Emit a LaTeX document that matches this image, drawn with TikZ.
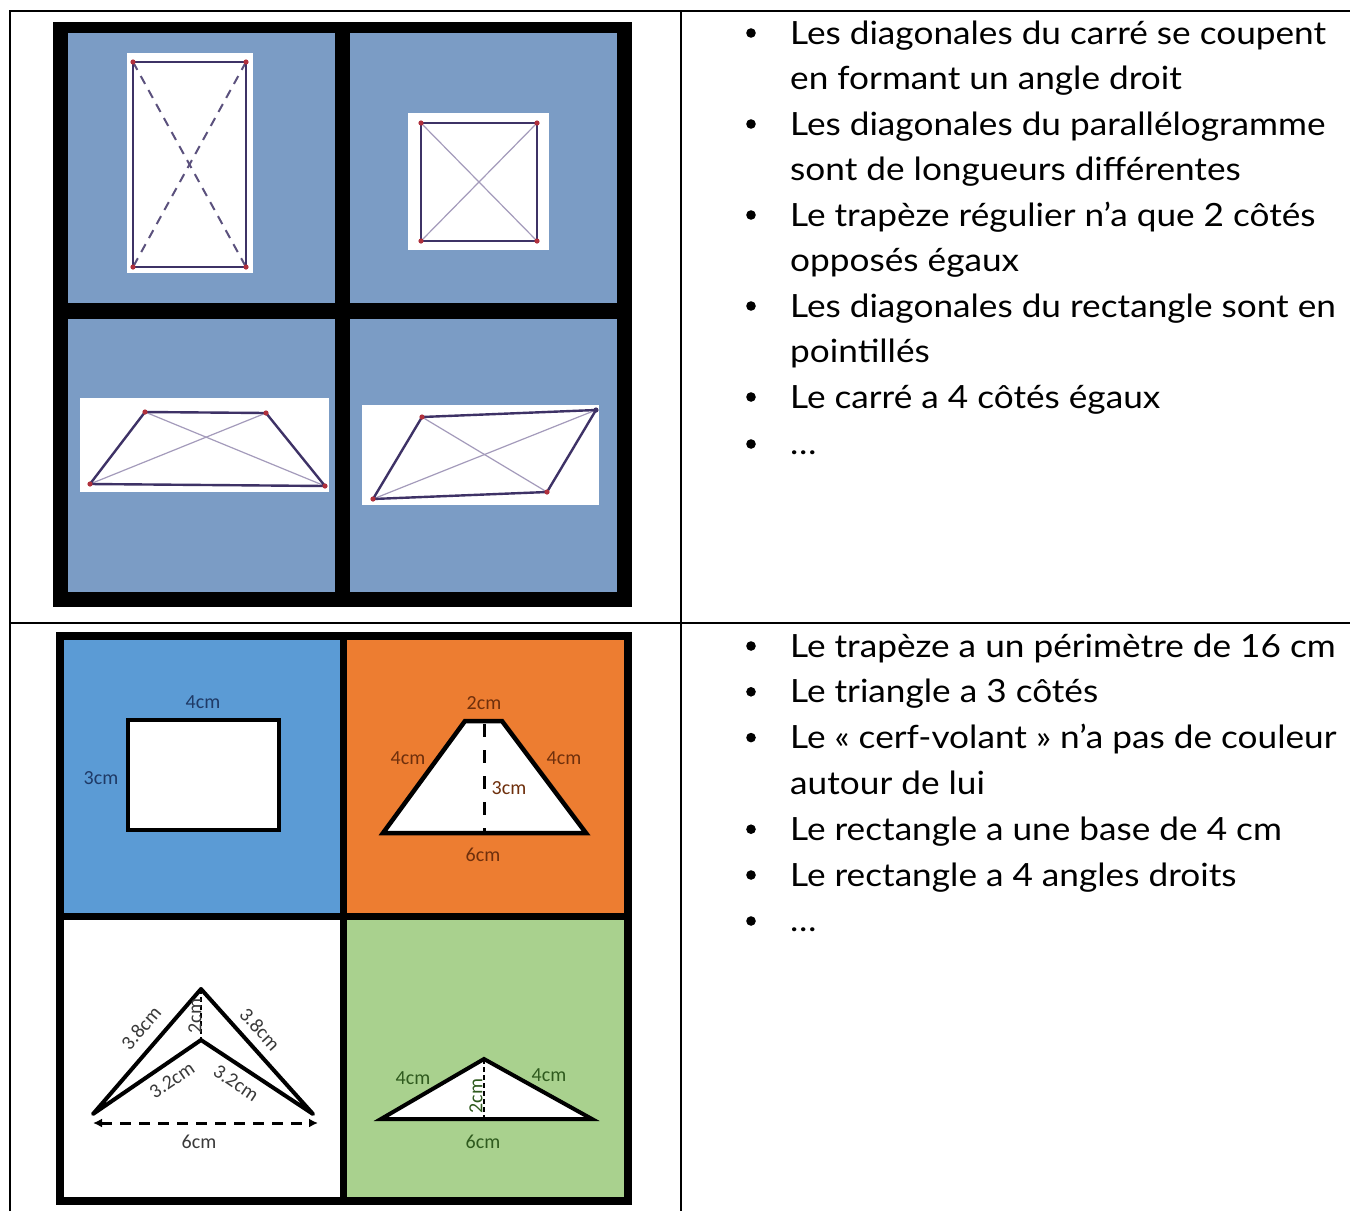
\documentclass[tikz,border=0pt]{standalone}
\usepackage{fontspec}
\setmainfont{Lato}[FakeStretch=1.1]
\newfontfamily\lblfont{Carlito}
\usetikzlibrary{arrows.meta}
\definecolor{steel}{HTML}{7B9CC5}
\definecolor{pblue}{HTML}{5B9BD5}
\definecolor{porange}{HTML}{ED7D31}
\definecolor{pgreen}{HTML}{A9D18E}
\definecolor{edgec}{HTML}{3E3266}
\definecolor{diagc}{HTML}{A49BBB}
\definecolor{dotc}{HTML}{B0303C}
\definecolor{navylbl}{HTML}{1F3A66}
\definecolor{brownlbl}{HTML}{6E2F0C}
\definecolor{greenlbl}{HTML}{2F5A1E}
\definecolor{graylbl}{HTML}{3A3A3A}
\tikzset{
  tabline/.style={line width=2pt, black},
  bodytext/.style={anchor=base west, inner sep=0pt, font=\fontsize{32}{38}\selectfont},
  bul/.style={fill=black},
  shapeedge/.style={draw=edgec, line width=2.4pt, line join=round},
  diagline/.style={draw=diagc, line width=1.2pt},
  dashdiag/.style={draw=edgec!85, line width=2pt, dash pattern=on 9pt off 7pt},
  vdot/.style={fill=dotc},
  lbl/.style={inner sep=0pt, font=\lblfont\fontsize{20}{20}\selectfont},
  thickfig/.style={draw=black, line width=4.5pt, fill=white},
}
\begin{document}
\begin{tikzpicture}[x=1pt,y=-1pt]
\useasboundingbox (0,0) rectangle (1350,1211);
\fill[white] (0,0) rectangle (1350,1211);

% ---------- table rules ----------
\draw[tabline] (10,1211) -- (10,11) -- (1350,11);
\draw[tabline] (10,623) -- (1350,623);
\draw[tabline] (681,11) -- (681,1211);

% ---------- top picture ----------
\fill[black] (53,22) rectangle (632,607);
\fill[steel] (68,33) rectangle (335,303);
\fill[steel] (350,33) rectangle (617,303);
\fill[steel] (68,319) rectangle (335,592);
\fill[steel] (350,319) rectangle (617,592);

% rectangle (dashed diagonals)
\fill[white] (127,53) rectangle (253,273);
\coordinate (ra) at (133,62); \coordinate (rb) at (246,62);
\coordinate (rc) at (246,267); \coordinate (rd) at (133,267);
\draw[dashdiag] (ra) -- (rc);
\draw[dashdiag] (rb) -- (rd);
\draw[shapeedge] (ra) -- (rb) -- (rc) -- (rd) -- cycle;
\foreach \p in {ra,rb,rc,rd} \fill[vdot] (\p) circle[radius=2.6pt];

% square
\fill[white] (408,113) rectangle (549,250);
\coordinate (sa) at (421,123); \coordinate (sb) at (537,123);
\coordinate (sc) at (537,241); \coordinate (sd) at (421,241);
\draw[diagline] (sa) -- (sc);
\draw[diagline] (sb) -- (sd);
\draw[shapeedge] (sa) -- (sb) -- (sc) -- (sd) -- cycle;
\foreach \p in {sa,sb,sc,sd} \fill[vdot] (\p) circle[radius=2.6pt];

% trapezoid
\fill[white] (80,398) rectangle (329,492);
\coordinate (ta) at (145,412); \coordinate (tb) at (266,413);
\coordinate (tc) at (325,486); \coordinate (td) at (90,484);
\draw[diagline] (ta) -- (tc);
\draw[diagline] (tb) -- (td);
\draw[shapeedge] (ta) -- (tb) -- (tc) -- (td) -- cycle;
\foreach \p in {ta,tb,tc,td} \fill[vdot] (\p) circle[radius=2.6pt];

% parallelogram
\fill[white] (362,405) rectangle (599,505);
\coordinate (pa) at (422,417); \coordinate (pb) at (596,410);
\coordinate (pc) at (547,492); \coordinate (pd) at (373,499);
\draw[diagline] (pa) -- (pc);
\draw[diagline] (pb) -- (pd);
\draw[shapeedge] (pa) -- (pb) -- (pc) -- (pd) -- cycle;
\foreach \p in {pa,pc,pd} \fill[vdot] (\p) circle[radius=2.6pt];
\fill[edgec] (pb) circle[radius=2.6pt];

% ---------- bottom picture ----------
\fill[black] (56,632) rectangle (632,1205);
\fill[pblue] (64,640) rectangle (340,913);
\fill[porange] (347,640) rectangle (624,913);
\fill[white] (64,920) rectangle (340,1197);
\fill[pgreen] (347,920) rectangle (624,1197);

% rectangle 4cm x 3cm
\draw[thickfig] (128,720) rectangle (279,830);
\node[lbl, text=navylbl] (r4) at (203,702) {4cm};
\node[lbl, text=navylbl] (r3) at (101,778) {3cm};

% trapezoid
\coordinate (za) at (465,721); \coordinate (zb) at (502,721);
\coordinate (zc) at (586,833); \coordinate (zd) at (383,833);
\draw[thickfig, line join=miter] (za) -- (zb) -- (zc) -- (zd) -- cycle;
\draw[black, line width=3pt, dash pattern=on 13pt off 13pt] (484,724) -- (484,831);
\node[lbl, text=brownlbl] (z2) at (484,703) {2cm};
\node[lbl, text=brownlbl] (z4a) at (408,758) {4cm};
\node[lbl, text=brownlbl] (z4b) at (564,758) {4cm};
\node[lbl, text=brownlbl] (z3) at (509,788) {3cm};
\node[lbl, text=brownlbl] (z6) at (483,855) {6cm};

% kite (dart)
\coordinate (ka) at (201,989);
\coordinate (kb) at (313,1114);
\coordinate (kc) at (201,1040);
\coordinate (kd) at (93,1114);
\draw[black, line width=4pt, line join=round] (kd) -- (ka) -- (kb) -- (kc) -- cycle;
\draw[black, line width=1.5pt, dash pattern=on 5pt off 3pt] (ka) -- (kc);
\coordinate (kl) at (93,1123); \coordinate (kr) at (318,1123);
\draw[black, line width=3pt, dash pattern=on 11pt off 8pt, {Latex[length=9pt,width=9pt]}-{Latex[length=9pt,width=9pt]}] (kl) -- (kr);
\node[lbl, text=graylbl, rotate=49] (k38a) at (141,1028) {3.8cm};
\node[lbl, text=graylbl, rotate=-48] (k38b) at (260,1029) {3.8cm};
\node[lbl, text=graylbl, rotate=90] (k2) at (195,1016) {2cm};
\node[lbl, text=graylbl, rotate=34] (k32a) at (172,1080) {3.2cm};
\node[lbl, text=graylbl, rotate=-34] (k32b) at (236,1083) {3.2cm};
\node[lbl, text=graylbl] (k6) at (199,1142) {6cm};

% triangle
\coordinate (ga) at (484,1059); \coordinate (gb) at (592,1119); \coordinate (gc) at (381,1119);
\draw[thickfig, line width=4pt, line join=miter] (ga) -- (gb) -- (gc) -- cycle;
\draw[black, line width=2.5pt, dash pattern=on 5pt off 3pt] (ga) -- (484,1117);
\node[lbl, text=greenlbl] (g4a) at (413,1078) {4cm};
\node[lbl, text=greenlbl] (g4b) at (549,1075) {4cm};
\node[lbl, text=greenlbl, rotate=90] (g2) at (476,1096) {2cm};
\node[lbl, text=greenlbl] (g6) at (483,1142) {6cm};

% ---------- top list ----------
\foreach \t [count=\i] in {%
  Les diagonales du carré se coupent,
  en formant un angle droit,
  Les diagonales du parallélogramme,
  sont de longueurs différentes,
  Le trapèze régulier n’a que 2 côtés,
  opposés égaux,
  Les diagonales du rectangle sont en,
  pointillés,
  Le carré a 4 côtés égaux}
  \node[bodytext] (ua\i) at (790,{44+45.5*(\i-1)}) {\t};
\node[bodytext] (ua10) at (790,454) {…};
\foreach \i in {1,3,5,7,9}
  \fill[bul] (751,{44+45.5*(\i-1)-11}) circle[radius=4.8pt];
\fill[bul] (751,444) circle[radius=4.8pt];

% ---------- bottom list ----------
\foreach \t [count=\i] in {%
  Le trapèze a un périmètre de 16 cm,
  Le triangle a 3 côtés,
  Le «~cerf-volant~» n’a pas de couleur,
  autour de lui,
  Le rectangle a une base de 4 cm,
  Le rectangle a 4 angles droits}
  \node[bodytext] (ub\i) at (790,{657+45.8*(\i-1)}) {\t};
\node[bodytext] (ub7) at (790,931) {…};
\foreach \i in {1,2,3,5,6}
  \fill[bul] (751,{657+45.8*(\i-1)-11}) circle[radius=4.8pt];
\fill[bul] (751,921) circle[radius=4.8pt];
\end{tikzpicture}
\end{document}
